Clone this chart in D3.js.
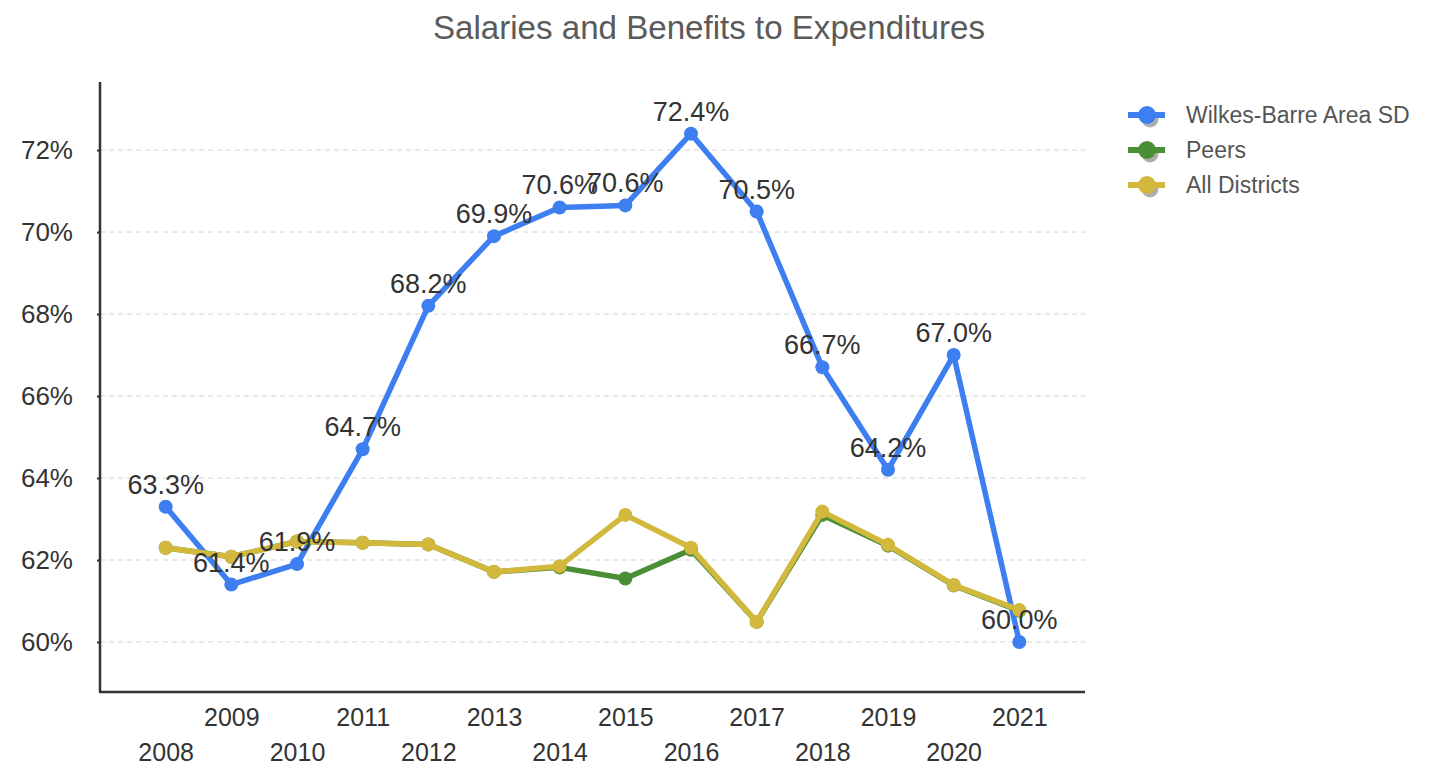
<!DOCTYPE html>
<html>
<head>
<meta charset="utf-8">
<script src="https://cdn.jsdelivr.net/npm/d3@7"></script>
<style>
  html, body { margin: 0; padding: 0; background: #fff; }
  svg { display: block; font-family: "Liberation Sans", Arial, sans-serif; }
</style>
</head>
<body>
<svg id="chart" width="1440" height="767"></svg>
<script>
const title = "Salaries and Benefits to Expenditures";
const years = ["2008","2009","2010","2011","2012","2013","2014","2015","2016","2017","2018","2019","2020","2021"];
const wilkesBarre = [63.3, 61.4, 61.9, 64.7, 68.2, 69.9, 70.6, 70.65, 72.4, 70.5, 66.7, 64.2, 67.0, 60.0];
const wilkesLabels = ["63.3%","61.4%","61.9%","64.7%","68.2%","69.9%","70.6%","70.6%","72.4%","70.5%","66.7%","64.2%","67.0%","60.0%"];
const peers = [62.3, 62.08, 62.45, 62.42, 62.38, 61.71, 61.82, 61.55, 62.25, 60.49, 63.1, 62.35, 61.38, 60.76];
const allDistricts = [62.3, 62.08, 62.45, 62.42, 62.38, 61.71, 61.85, 63.1, 62.3, 60.49, 63.18, 62.37, 61.39, 60.78];
const yTicks = [60, 62, 64, 66, 68, 70, 72];
const seriesNames = ["Wilkes-Barre Area SD", "Peers", "All Districts"];
const seriesColors = ["#3d7ef0", "#4a8f36", "#d2b83c"];

(function () {
const svg = d3.select("#chart");
const pLeft = 100, pRight = 1085, pTop = 82, pBottom = 692;

const x = d3.scalePoint().domain(years).range([pLeft, pRight]).padding(1);
const y = d3.scaleLinear().domain([58.78, 73.66]).range([pBottom, pTop]);

// Title
svg.append("text")
  .attr("x", 709).attr("y", 39)
  .attr("text-anchor", "middle")
  .attr("font-size", 34)
  .attr("fill", "#5a5a5a")
  .attr("textLength", 552)
  .attr("lengthAdjust", "spacingAndGlyphs")
  .text(title);

// Gridlines
svg.append("g").selectAll("line").data(yTicks).join("line")
  .attr("x1", pLeft).attr("x2", pRight)
  .attr("y1", d => y(d)).attr("y2", d => y(d))
  .attr("stroke", "#d4d4d4").attr("stroke-width", 1)
  .attr("stroke-dasharray", "5,4");

// Y axis
const yAxis = d3.axisLeft(y).tickValues(yTicks).tickSize(3).tickPadding(24).tickFormat(d => d + "%");
const gy = svg.append("g").attr("transform", `translate(${pLeft},0)`).call(yAxis);
gy.select(".domain").remove();
gy.selectAll(".tick line").attr("stroke", "#333").attr("stroke-width", 2);
gy.selectAll(".tick text").attr("font-size", 26).attr("fill", "#333")
  .attr("font-family", "Liberation Sans, Arial, sans-serif");
svg.append("line").attr("x1", pLeft).attr("x2", pLeft).attr("y1", pTop).attr("y2", pBottom)
  .attr("stroke", "#333").attr("stroke-width", 2.5);

// X axis
const xAxis = d3.axisBottom(x).tickSize(0).tickPadding(0);
const gx = svg.append("g").attr("transform", `translate(0,${pBottom})`).call(xAxis);
gx.select(".domain").remove();
gx.selectAll(".tick text")
  .attr("font-size", 25).attr("fill", "#333")
  .attr("font-family", "Liberation Sans, Arial, sans-serif")
  .attr("dy", null)
  .attr("y", (d, i) => i % 2 === 1 ? 34 : 69);
svg.append("line").attr("x1", pLeft - 1).attr("x2", pRight).attr("y1", pBottom).attr("y2", pBottom)
  .attr("stroke", "#333").attr("stroke-width", 2.5);

// Series
const allSeries = [wilkesBarre, peers, allDistricts];
const line = d3.line().x((d, i) => x(years[i])).y(d => y(d));
allSeries.forEach((vals, si) => {
  const g = svg.append("g");
  g.append("path").datum(vals)
    .attr("d", line)
    .attr("fill", "none")
    .attr("stroke", seriesColors[si])
    .attr("stroke-width", 5.5)
    .attr("stroke-linejoin", "round");
  g.selectAll("circle").data(vals).join("circle")
    .attr("cx", (d, i) => x(years[i]))
    .attr("cy", d => y(d))
    .attr("r", 7)
    .attr("fill", seriesColors[si]);
});

// Data labels
svg.append("g").selectAll("text").data(wilkesBarre).join("text")
  .attr("x", (d, i) => x(years[i]))
  .attr("y", d => y(d) - 13)
  .attr("text-anchor", "middle")
  .attr("font-size", 27)
  .attr("fill", "#333")
  .text((d, i) => wilkesLabels[i]);

// Legend
const legend = svg.append("g");
seriesNames.forEach((name, i) => {
  const ly = 115 + i * 35;
  const g = legend.append("g");
  g.append("circle").attr("cx", 1150).attr("cy", ly + 4).attr("r", 8.5).attr("fill", "#9a9a9a").attr("opacity", 0.8);
  g.append("line").attr("x1", 1128).attr("x2", 1165).attr("y1", ly).attr("y2", ly)
    .attr("stroke", seriesColors[i]).attr("stroke-width", 6);
  g.append("circle").attr("cx", 1147).attr("cy", ly).attr("r", 9).attr("fill", seriesColors[i]);
  g.append("text").attr("x", 1186).attr("y", ly + 8)
    .attr("font-size", 23).attr("fill", "#555")
    .text(name);
});
})();
</script>
</body>
</html>
